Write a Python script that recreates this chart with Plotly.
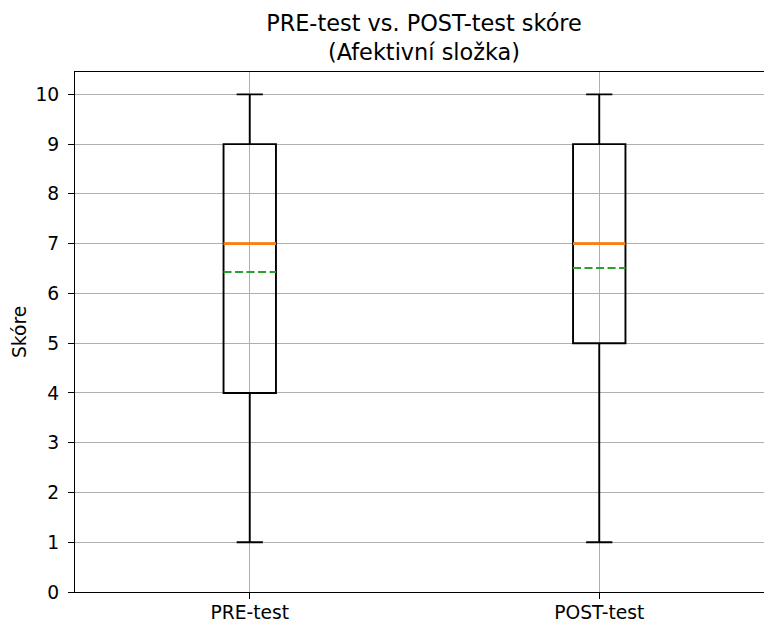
import plotly.graph_objects as go

categories = ["PRE-test", "POST-test"]
positions = [1, 2]
q1_vals = [4, 5]
median_vals = [7, 7]
q3_vals = [9, 9]
lower_whisker = [1, 1]
upper_whisker = [10, 10]
mean_vals = [6.43, 6.51]
y_ticks = list(range(0, 11))

BOX_W = 0.15
FONT = "DejaVu Sans"
LW = 1.9

fig = go.Figure()
for i, p in enumerate(positions):
    fig.add_trace(go.Box(
        x=[p], q1=[q1_vals[i]], median=[median_vals[i]], q3=[q3_vals[i]],
        lowerfence=[lower_whisker[i]], upperfence=[upper_whisker[i]],
        width=BOX_W, whiskerwidth=0.5,
        line=dict(color="black", width=LW),
        fillcolor="rgba(0,0,0,0)", boxpoints=False, showlegend=False,
        hoverinfo="skip",
    ))
for i, p in enumerate(positions):
    fig.add_trace(go.Scatter(
        x=[p - BOX_W / 2, p + BOX_W / 2], y=[median_vals[i]] * 2,
        mode="lines", line=dict(color="#ff7f0e", width=2.6),
        showlegend=False, hoverinfo="skip",
    ))
    fig.add_trace(go.Scatter(
        x=[p - BOX_W / 2, p + BOX_W / 2], y=[mean_vals[i]] * 2,
        mode="lines", line=dict(color="#2ca02c", width=LW, dash="8px,3.5px"),
        showlegend=False, hoverinfo="skip",
    ))

fig.update_layout(
    width=764, height=623,
    margin=dict(l=75, r=0, t=72, b=31, autoexpand=False),
    paper_bgcolor="white", plot_bgcolor="white",
    font=dict(family=FONT, color="black", size=18.7),
    title=dict(text="PRE-test vs. POST-test skóre<br>(Afektivní složka)",
               font=dict(size=22.4, color="black"),
               x=(424 - 75) / 689, xref="paper", xanchor="center",
               y=1 - 31 / 623, yref="container", yanchor="top"),
    showlegend=False,
)
fig.update_xaxes(
    range=[0.5, 0.5 + 689 / 349.5],
    tickvals=positions, ticktext=categories,
    ticks="outside", ticklen=6, tickwidth=1.2, tickcolor="black",
    showline=True, linecolor="black", linewidth=1.2, mirror=True,
    showgrid=True, gridcolor="#b0b0b0", gridwidth=1.2,
    zeroline=False, ticklabelstandoff=-3, automargin=False,
)
fig.update_yaxes(
    range=[0, 10.45], tickvals=y_ticks,
    ticks="outside", ticklen=6, tickwidth=1.2, tickcolor="black",
    showline=True, linecolor="black", linewidth=1.2, mirror=False,
    showgrid=True, gridcolor="#b0b0b0", gridwidth=1.2,
    zeroline=False, ticklabelstandoff=5, automargin=False,
)
fig.add_annotation(
    text="Skóre", textangle=-90, xref="paper", yref="paper",
    x=(19 - 75) / 689, y=0.5, xanchor="center", yanchor="middle",
    showarrow=False, font=dict(size=18.7, color="black"),
)

fig.write_html(
    "out.html",
    config={"displayModeBar": False},
    post_script="document.body.style.margin='0';"
                "document.documentElement.style.overflow='hidden';",
)
